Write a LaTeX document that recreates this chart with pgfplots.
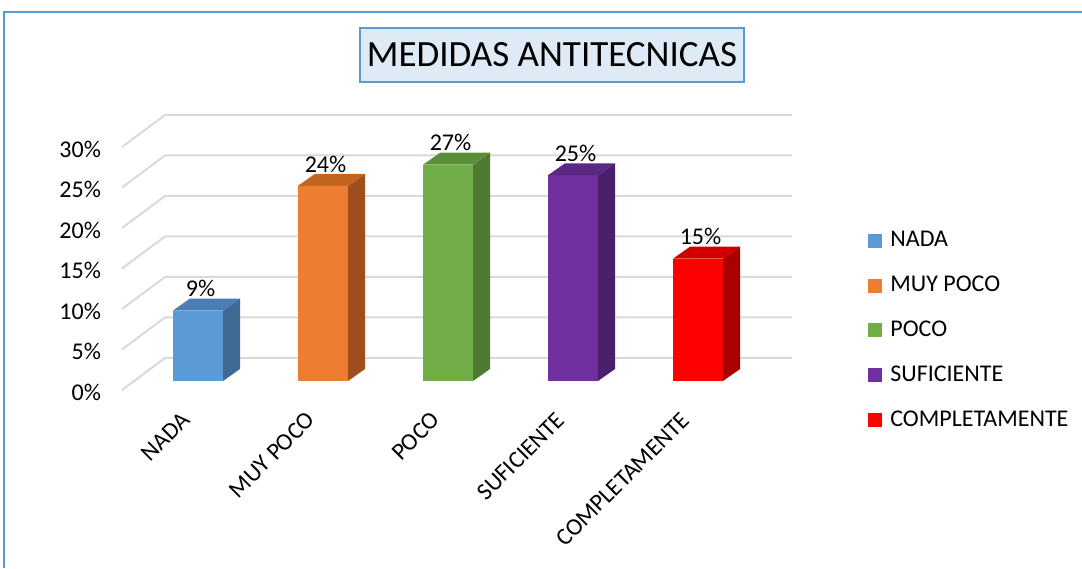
\documentclass[border=0pt]{standalone}
\usepackage{fontspec}
\setmainfont{Carlito}
\usepackage{pgfplots}
\pgfplotsset{compat=1.18}
\usepackage{pgfplotstable}

\definecolor{frameblue}{HTML}{5B9BD5}
\definecolor{titlefill}{HTML}{DEEBF7}
\definecolor{gridcol}{HTML}{D9D9D9}
\definecolor{nadaF}{HTML}{5B9BD5}\definecolor{nadaT}{HTML}{4A7DB3}\definecolor{nadaS}{HTML}{3E6A93}
\definecolor{muyF}{HTML}{ED7D31}\definecolor{muyT}{HTML}{C4651F}\definecolor{muyS}{HTML}{9E4F1C}
\definecolor{pocoF}{HTML}{70AD47}\definecolor{pocoT}{HTML}{5B8E39}\definecolor{pocoS}{HTML}{4E7A31}
\definecolor{sufF}{HTML}{7030A0}\definecolor{sufT}{HTML}{5A2782}\definecolor{sufS}{HTML}{4A2068}
\definecolor{compF}{HTML}{FF0000}\definecolor{compT}{HTML}{D00000}\definecolor{compS}{HTML}{A80000}

\pgfplotstableread{
x v lab
0 8.7 9
1 24.1 24
2 26.7 27
3 25.4 25
4 15.1 15
}\datatable

% #1 category position, #2 value, #3 front, #4 top, #5 side
\newcommand{\barthreed}[5]{%
  \addplot[forget plot, fill=#3, draw=none] table[row sep=\\, x expr=\thisrow{dx}+#1, y expr=\thisrow{a}*#2+\thisrow{b}]
    {dx a b\\ -0.2 0 0\\ 0.2 0 0\\ 0.2 1 0\\ -0.2 1 0\\};
  \addplot[forget plot, fill=#5, draw=none] table[row sep=\\, x expr=\thisrow{dx}+#1, y expr=\thisrow{a}*#2+\thisrow{b}]
    {dx a b\\ 0.2 0 0\\ 0.336 0 1.48\\ 0.336 1 1.48\\ 0.2 1 0\\};
  \addplot[forget plot, fill=#4, draw=none] table[row sep=\\, x expr=\thisrow{dx}+#1, y expr=\thisrow{a}*#2+\thisrow{b}]
    {dx a b\\ -0.2 1 0\\ 0.2 1 0\\ 0.336 1 1.48\\ -0.064 1 1.48\\};
}

\begin{document}
\begin{tikzpicture}
\useasboundingbox (0,0) rectangle (541pt,284pt);
\draw[frameblue, line width=1pt] (2pt,0pt) -- (2pt,278pt) -- (541pt,278pt);
\node[draw=frameblue, fill=titlefill, line width=1pt, inner xsep=3.5pt, minimum height=27pt,
      font=\fontsize{18.5}{22}\selectfont] at (276pt,256.5pt) {MEDIDAS ANTITECNICAS};

\begin{axis}[
  at={(54pt,73.25pt)}, anchor=south west,
  scale only axis, width=357.5pt, height=162pt,
  xmin=-0.72, xmax=5, ymin=-5, ymax=35,
  axis line style={draw=none},
  major tick length=0pt,
  clip=false,
  ytick={-1.4,3.6,8.6,13.6,18.6,23.6,28.6},
  yticklabels={0\%,5\%,10\%,15\%,20\%,25\%,30\%},
  xtick={0,1,2,3,4},
  xticklabels={NADA,MUY POCO,POCO,SUFICIENTE,COMPLETAMENTE},
  ticklabel style={font=\fontsize{12}{14}\selectfont},
  xticklabel style={xshift=-6pt, yshift=2.75pt, rotate=45, anchor=east, inner sep=0pt},
  /pgf/number format/assume math mode=true,
  legend style={at={(1.0629,0.5898)}, anchor=north west, draw=none, fill=none,
     font=\fontsize{12}{14}\selectfont, row sep=12.4pt, column sep=4pt, inner sep=0pt,
     nodes={inner sep=0pt, text height=8pt, text depth=2pt}},
  legend cell align=left,
]
\pgfplotsinvokeforeach{0,5,10,15,20,25,30}{
  \addplot[forget plot, gridcol, line width=1pt, mark=none] table[row sep=\\, y expr=\thisrow{y}+#1]
    {x y\\ -0.608 -1.11\\ -0.264 2.84\\ 4.752 2.84\\};
}
\barthreed{0}{8.7}{nadaF}{nadaT}{nadaS}
\barthreed{1}{24.1}{muyF}{muyT}{muyS}
\barthreed{2}{26.7}{pocoF}{pocoT}{pocoS}
\barthreed{3}{25.4}{sufF}{sufT}{sufS}
\barthreed{4}{15.1}{compF}{compT}{compS}

\addplot[forget plot, draw=none, mark=none, nodes near coords={\pgfplotspointmeta\%},
  point meta=explicit symbolic,
  every node near coord/.append style={anchor=center, inner sep=0pt, font=\fontsize{12}{14}\selectfont}]
  table[x expr=\thisrow{x}+0.02, y expr=\thisrow{v}+2.7, meta=lab] {\datatable};

\pgfplotsset{legend image code/.code={\fill[#1] (0pt,-3.5pt) rectangle (7pt,3.5pt);}}
\addlegendimage{fill=nadaF, draw=none}\addlegendentry{NADA}
\addlegendimage{fill=muyF, draw=none}\addlegendentry{MUY POCO}
\addlegendimage{fill=pocoF, draw=none}\addlegendentry{POCO}
\addlegendimage{fill=sufF, draw=none}\addlegendentry{SUFICIENTE}
\addlegendimage{fill=compF, draw=none}\addlegendentry{COMPLETAMENTE}
\end{axis}
\end{tikzpicture}
\end{document}
